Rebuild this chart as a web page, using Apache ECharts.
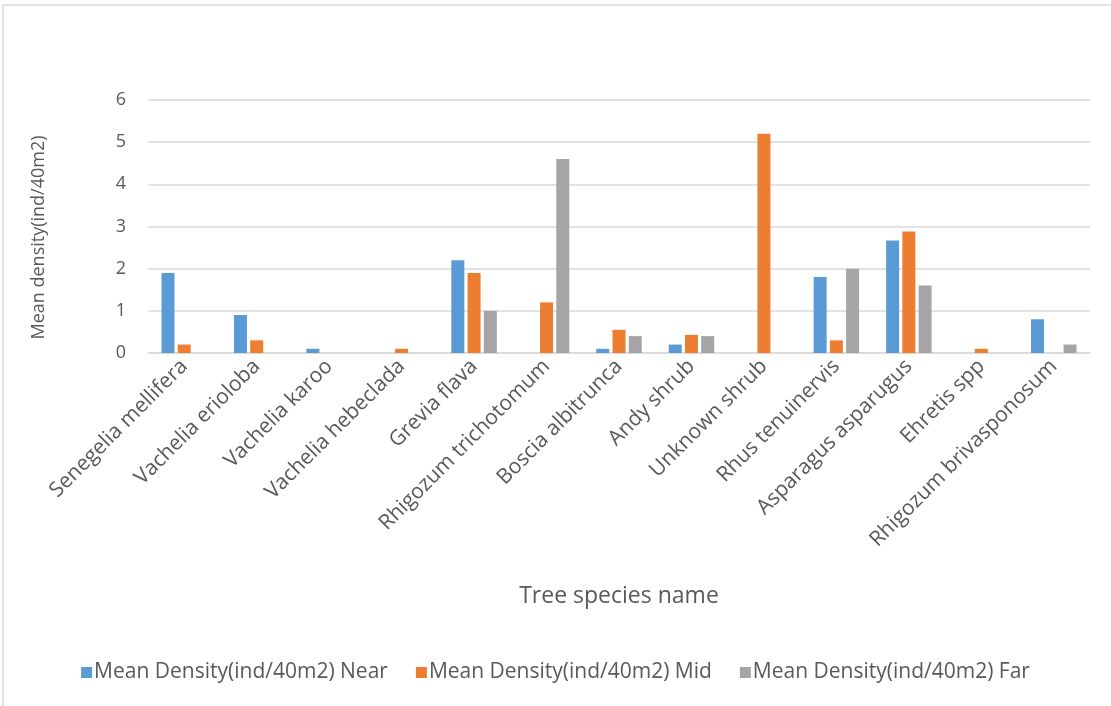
<!DOCTYPE html>
<html><head><meta charset="utf-8">
<script src="https://cdn.jsdelivr.net/npm/echarts@6/dist/echarts.min.js"></script>
<style>html,body{margin:0;padding:0;background:#fff}#c{width:1111px;height:706px}</style>
</head><body><div id="c"></div>
<script>
const categories = ["Senegelia mellifera","Vachelia erioloba","Vachelia karoo","Vachelia hebeclada","Grevia flava","Rhigozum trichotomum","Boscia albitrunca","Andy shrub","Unknown shrub","Rhus tenuinervis","Asparagus asparugus","Ehretis spp","Rhigozum brivasponosum"];
const nearValues = [1.9,0.9,0.1,0,2.2,0,0.1,0.2,0,1.8,2.67,0,0.8];
const midValues  = [0.2,0.3,0,0.1,1.9,1.2,0.55,0.43,5.2,0.3,2.88,0.1,0];
const farValues  = [0,0,0,0,1.0,4.6,0.4,0.4,0,2.0,1.6,0,0.2];
const seriesNames = ["Mean Density(ind/40m2) Near","Mean Density(ind/40m2) Mid","Mean Density(ind/40m2) Far"];
const colors = ["#5B9BD5","#ED7D31","#A5A5A5"];
const font = "'Open Sans', 'Noto Sans', sans-serif";
const chart = echarts.init(document.getElementById('c'));
const mk = (i, d) => ({name: seriesNames[i], type:'bar', data:d, barWidth:13, barGap:'25%',
  itemStyle:{color:colors[i]}, animation:false});
chart.setOption({
  animation:false,
  textStyle:{fontFamily:font},
  graphic:[{type:'rect', shape:{x:3,y:5,width:1120,height:720}, style:{fill:'none', stroke:'#d9d9d9', lineWidth:1.5}, silent:true}],
  grid:{left:148,right:21,top:100,bottom:353,containLabel:false},
  legend:{bottom:18,left:'center',itemWidth:11,itemHeight:11,itemGap:28,icon:'rect',
    textStyle:{fontSize:21,color:'#595959',fontFamily:font,padding:[0,0,0,-3]}},
  xAxis:{type:'category',data:categories,
    name:'Tree species name',nameLocation:'middle',nameGap:232,
    nameTextStyle:{fontSize:23,color:'#595959',fontFamily:font},
    axisLine:{lineStyle:{color:'#d9d9d9',width:1.5}},axisTick:{show:false},
    axisLabel:{rotate:45,interval:0,fontSize:21,color:'#595959',fontFamily:font,margin:10}},
  yAxis:{type:'value',min:0,max:6,interval:1,
    name:'Mean density(ind/40m2)',nameLocation:'middle',nameGap:100,nameRotate:90,
    nameTextStyle:{fontSize:18,color:'#595959',fontFamily:font,padding:[0,22,0,0]},
    axisLine:{show:false},axisTick:{show:false},
    splitLine:{lineStyle:{color:'#d9d9d9',width:1.5}},
    axisLabel:{fontSize:18,color:'#595959',fontFamily:font,margin:22}},
  series:[mk(0,nearValues),mk(1,midValues),mk(2,farValues)]
});
</script></body></html>
